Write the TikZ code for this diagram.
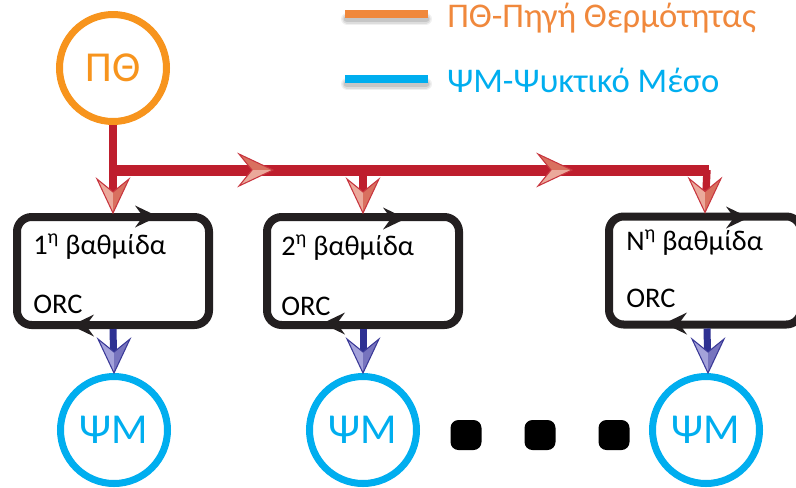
\documentclass[tikz,border=0pt]{standalone}
\usepackage{fontspec}
\setmainfont{Carlito}
\usetikzlibrary{arrows.meta}
\definecolor{ptorange}{HTML}{F7941D}
\definecolor{legorange}{HTML}{F0883C}
\definecolor{psblue}{HTML}{00AEEF}
\definecolor{redln}{HTML}{BE1E2D}
\definecolor{rhlight}{HTML}{EBA99B}
\definecolor{rhdark}{HTML}{D9705F}
\definecolor{rhline}{HTML}{C8363F}
\definecolor{blueln}{HTML}{2E3192}
\definecolor{bhlight}{HTML}{A4A2DA}
\definecolor{bhdark}{HTML}{7774BE}
\definecolor{bhline}{HTML}{3B3A98}
\definecolor{boxln}{HTML}{231F20}
\tikzset{
  ptcirc/.style={circle, draw=ptorange, line width=5.25pt, minimum size=80.25pt, inner sep=0pt, text=ptorange, font=\fontsize{32}{32}\selectfont},
  pscirc/.style={circle, draw=psblue, line width=5.25pt, minimum size=80.25pt, inner sep=0pt, text=psblue, font=\fontsize{32}{32}\selectfont},
  stagebox/.style={draw=boxln, line width=6pt, rounded corners=11pt, minimum width=144pt, minimum height=81pt, fill=white, inner sep=0pt},
  boxtext/.style={anchor=base west, inner sep=0pt, font=\fontsize{21.3}{22}\selectfont, text=black},
  dotbox/.style={rectangle, fill=black, rounded corners=6pt, minimum width=23.25pt, minimum height=22.5pt, inner sep=0pt},
  redvert/.style={draw=redln, line width=5.5pt},
  redhor/.style={draw=redln, line width=8.25pt, line join=miter},
  blueshaft/.style={draw=blueln, line width=5.25pt},
  legtext/.style={anchor=base west, inner sep=0pt, font=\fontsize{26}{27}\selectfont},
  redheaddown/.pic={
    \fill[rhlight] (0,0)--(-16,-34)--(0,-21)--cycle;
    \fill[rhdark] (0,0)--(16,-34)--(0,-21)--cycle;
    \draw[rhline, line width=0.8pt, line join=miter] (0,0)--(-16,-34)--(0,-21)--(16,-34)--cycle;
  },
  redheadright/.pic={
    \fill[rhdark] (0,0)--(-34,-16)--(-21,0)--cycle;
    \fill[rhlight] (0,0)--(-34,16)--(-21,0)--cycle;
    \draw[rhline, line width=0.8pt, line join=miter] (0,0)--(-34,-16)--(-21,0)--(-34,16)--cycle;
  },
  blueheaddown/.pic={
    \fill[bhlight] (0,0)--(-16,-34)--(0,-21)--cycle;
    \fill[bhdark] (0,0)--(16,-34)--(0,-21)--cycle;
    \draw[bhline, line width=0.8pt, line join=miter] (0,0)--(-16,-34)--(0,-21)--(16,-34)--cycle;
  },
  blkright/.pic={
    \fill[boxln] (0,0)--(-23,-11)--(-15,0)--(-23,11)--cycle;
  },
  blkleft/.pic={
    \fill[boxln] (0,0)--(23,-11)--(15,0)--(23,11)--cycle;
  },
}
\begin{document}
\begin{tikzpicture}[x=0.75pt,y=-0.75pt]
\useasboundingbox (0,0) rectangle (796,487);
\clip (0,0) rectangle (796,487);
\fill[white] (0,0) rectangle (796,487);

% legend
\coordinate (lo1) at (345,14);
\coordinate (lo2) at (428,14);
\coordinate (lb1) at (345,79);
\coordinate (lb2) at (428,79);
\foreach \w/\o in {9pt/0.06,7pt/0.08,5pt/0.10}{
  \draw[black, opacity=\o, line width=\w, line cap=round] ([shift={(2,5)}]lo1) -- ([shift={(-2,5)}]lo2);
  \draw[black, opacity=\o, line width=\w, line cap=round] ([shift={(2,5)}]lb1) -- ([shift={(-2,5)}]lb2);
}
\draw[legorange, line width=6pt] (lo1) -- (lo2);
\draw[psblue, line width=6pt] (lb1) -- (lb2);
\node[legtext, text=legorange] (legPT) at (447,27) {ΠΘ-Πηγή Θερμότητας};
\node[legtext, text=psblue] (legPS) at (447,92) {ΨΜ-Ψυκτικό Μέσο};

% heat source
\node[ptcirc] (pt) at (113,68) {ΠΘ};

% stages
\node[stagebox] (b1) at (113,271) {};
\node[stagebox] (b2) at (363,271) {};
\node[stagebox] (bN) at (705,270.5) {};
\node[boxtext] (t1) at (33,254) {1\textsuperscript{η} βαθμίδα};
\node[boxtext] (o1) at (33,313) {ORC};
\node[boxtext] (t2) at (281,255) {2\textsuperscript{η} βαθμίδα};
\node[boxtext] (o2) at (281,315) {ORC};
\node[boxtext] (tN) at (626,250) {N\textsuperscript{η} βαθμίδα};
\node[boxtext] (oN) at (626,307) {ORC};

% cooling medium circles
\node[pscirc] (c1) at (114,430) {ΨΜ};
\node[pscirc] (c2) at (363,430) {ΨΜ};
\node[pscirc] (cN) at (706,430) {ΨΜ};

% dots
\node[dotbox] (d1) at (466,435) {};
\node[dotbox] (d2) at (540,435) {};
\node[dotbox] (d3) at (614,435) {};

% red connectors
\coordinate (j1) at (113,170);
\coordinate (j2) at (363,170);
\coordinate (jN) at (709,170);
\draw[redvert, shorten >=15pt] (pt.south) -- (b1.north);
\draw[redhor] (j1) -- (jN);
\draw[redvert, shorten >=15pt] (j2) -- (b2.north);
\draw[redvert, shorten >=15pt] ([xshift=-1.5pt]jN) -- (bN.north);
\pic at (b1.north) {redheaddown};
\pic at (b2.north) {redheaddown};
\pic at (bN.north) {redheaddown};
\pic at (273,170) {redheadright};
\pic at (572,170) {redheadright};

% blue connectors
\draw[blueshaft, shorten >=15pt] (b1.south) -- (c1.north);
\draw[blueshaft, shorten >=15pt] (b2.south) -- (c2.north);
\draw[blueshaft, shorten >=15pt] ([xshift=1.5pt]bN.south) -- ([xshift=1.5pt]cN.north);
\pic at (c1.north) {blueheaddown};
\pic at (c2.north) {blueheaddown};
\pic at ([xshift=1.5pt]cN.north) {blueheaddown};

% cycle arrows on boxes
\pic at (158,216.5) {blkright};
\pic at (71,325.5) {blkleft};
\pic at (406,218.5) {blkright};
\pic at (322,323.5) {blkleft};
\pic at (749,217.5) {blkright};
\pic at (664,323.5) {blkleft};
\end{tikzpicture}
\end{document}
